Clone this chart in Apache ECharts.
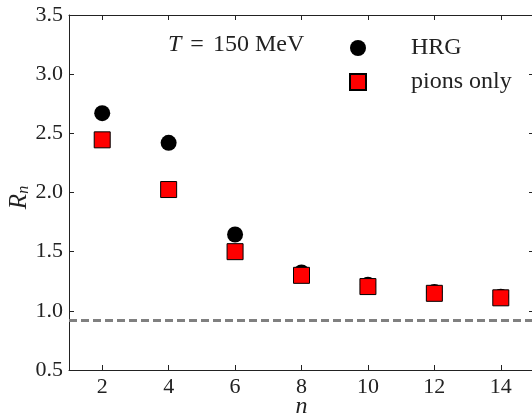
<!DOCTYPE html>
<html><head><meta charset="utf-8">
<script src="https://cdn.jsdelivr.net/npm/echarts@6/dist/echarts.min.js"></script>
<style>html,body{margin:0;padding:0;background:#fff}#c{width:532px;height:413px}</style>
</head><body><div id="c"></div>
<script>
const nValues = [2, 4, 6, 8, 10, 12, 14];
const hrg = [2.67, 2.42, 1.645, 1.325, 1.22, 1.16, 1.12];
const pions = [2.445, 2.025, 1.50, 1.30, 1.205, 1.148, 1.11];
const xTicks = [2, 4, 6, 8, 10, 12, 14];
const refLine = 0.92;

const font = 'Liberation Serif';
const chart = echarts.init(document.getElementById('c'));
const axisLine = {show: true, lineStyle: {color: '#222', width: 1}};
chart.setOption({
  animation: false,
  textStyle: {fontFamily: font},
  grid: {left: 69, top: 15, width: 465, height: 355, containLabel: false, outerBoundsMode: 'none'},
  title: {
    text: '{i|T}{e|=}150 MeV', left: 163, top: 28,
    textStyle: {fontFamily: font, fontSize: 24, fontWeight: 'normal', color: '#222',
      rich: {i: {fontFamily: font, fontStyle: 'italic', fontSize: 24, color: '#222', padding: [0, 9, 0, 0]},
             e: {fontFamily: font, fontSize: 24, color: '#222', padding: [0, 9, 0, 0]}}}
  },
  legend: {
    orient: 'vertical', left: 344, top: 31, itemGap: 10,
    itemWidth: 16, itemHeight: 16,
    textStyle: {fontFamily: font, fontSize: 24, color: '#222', padding: [0, 0, 0, 40]},
    data: [{name: 'HRG', icon: 'circle'}, {name: 'pions only', icon: 'rect'}]
  },
  xAxis: [{
    type: 'value', min: 1, max: 15,
    name: 'n', nameLocation: 'middle', nameGap: 25, nameMoveOverlap: false,
    nameTextStyle: {fontFamily: font, fontStyle: 'italic', fontSize: 24, color: '#222'},
    axisLine: axisLine,
    axisTick: {show: true, inside: true, length: 5, customValues: xTicks, lineStyle: {color: '#222'}},
    axisLabel: {customValues: xTicks, fontFamily: font, fontSize: 22, color: '#222', margin: 6},
    splitLine: {show: false}
  }, {
    type: 'value', min: 1, max: 15, position: 'top',
    axisLine: axisLine,
    axisTick: {show: true, inside: true, length: 5, customValues: xTicks, lineStyle: {color: '#222'}},
    axisLabel: {show: false}, splitLine: {show: false}
  }],
  yAxis: [{
    type: 'value', min: 0.5, max: 3.5, interval: 0.5,
    name: '{i|R}{s|n}', nameLocation: 'middle', nameGap: 37, nameRotate: 90, nameMoveOverlap: false,
    nameTextStyle: {fontFamily: font, fontSize: 24, color: '#222', padding: [0, 10, 0, 0],
      rich: {i: {fontFamily: font, fontStyle: 'italic', fontSize: 25, color: '#222'},
             s: {fontFamily: font, fontStyle: 'italic', fontSize: 16, color: '#222', verticalAlign: 'bottom', padding: [8, 0, 0, 0]}}},
    axisLine: axisLine,
    axisTick: {show: true, inside: true, length: 5, lineStyle: {color: '#222'}},
    axisLabel: {fontFamily: font, fontSize: 22, color: '#222', margin: 6, formatter: v => v.toFixed(1)},
    splitLine: {show: false}
  }, {
    type: 'value', min: 0.5, max: 3.5, interval: 0.5, position: 'right',
    axisLine: axisLine,
    axisTick: {show: true, inside: true, length: 5, lineStyle: {color: '#222'}},
    axisLabel: {show: false}, splitLine: {show: false}
  }],
  series: [{
    name: 'HRG', type: 'scatter', symbol: 'circle', symbolSize: 16,
    itemStyle: {color: '#000', opacity: 1},
    data: nValues.map((n, i) => [n, hrg[i]]),
    markLine: {
      silent: true, symbol: 'none', label: {show: false},
      lineStyle: {color: '#808080', width: 3, type: [8, 4], opacity: 1},
      data: [{yAxis: refLine}]
    }
  }, {
    name: 'pions only', type: 'scatter', symbol: 'rect', symbolSize: 16,
    itemStyle: {color: '#ff0000', borderColor: '#000', borderWidth: 1, opacity: 1},
    data: nValues.map((n, i) => [n, pions[i]])
  }]
});
</script></body></html>
